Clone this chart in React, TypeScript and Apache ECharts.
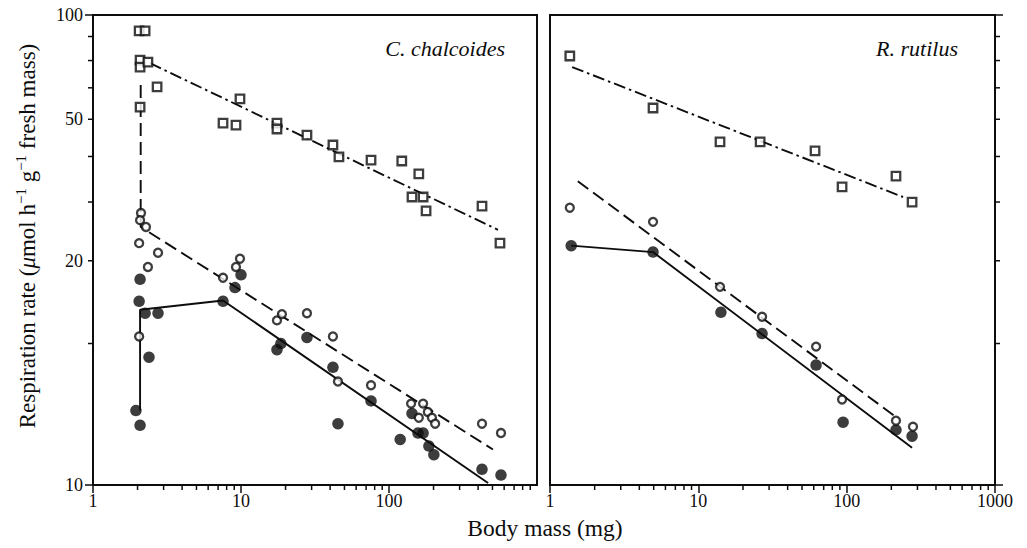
import { useEffect, useRef } from 'react';
import * as echarts from 'echarts';

// Body mass (mg) vs respiration rate, two species, log–log panels.
// Open squares, open circles and filled circles are three measurement sets;
// each set has its own fitted line (dash-dot, dashed, solid).

// ---- C. chalcoides ----
const chalcoidesSquares: [number, number][] = [
  [2.05, 92.5], [2.25, 92.5], [2.08, 80.2], [2.08, 77.5], [2.35, 79.4],
  [2.71, 70.3], [2.08, 63.7], [9.84, 66.3], [7.56, 58.9], [9.25, 58.3],
  [17.5, 58.9], [17.5, 57.2], [27.9, 55.5], [41.8, 52.9], [45.9, 49.9],
  [75.6, 49.1], [122, 48.9], [159, 45.9], [143, 41.0], [170, 41.0],
  [178, 38.3], [425, 39.2], [562, 32.7],
];
const chalcoidesOpen: [number, number][] = [
  [2.11, 37.9], [2.08, 36.6], [2.28, 35.4], [2.05, 32.7], [2.75, 31.2],
  [2.35, 29.1], [7.56, 27.6], [9.25, 29.1], [9.84, 30.3], [2.05, 20.7],
  [17.5, 22.4], [18.9, 23.1], [27.9, 23.2], [41.8, 20.7], [45.2, 16.6],
  [75.6, 16.3], [141, 14.9], [170, 14.9], [159, 13.9], [183, 14.3],
  [195, 13.9], [205, 13.5], [425, 13.5], [571, 12.9],
];
const chalcoidesFilled: [number, number][] = [
  [2.08, 27.4], [2.05, 24.6], [2.25, 23.2], [2.75, 23.2], [2.39, 18.7],
  [1.95, 14.4], [2.08, 13.4], [7.56, 24.6], [9.11, 26.3], [10.0, 28.0],
  [17.5, 19.4], [18.6, 20.0], [27.9, 20.6], [41.8, 17.8], [45.2, 13.5],
  [75.6, 15.1], [119, 12.5], [143, 14.2], [157, 12.9], [170, 12.9],
  [186, 12.1], [201, 11.6], [425, 10.8], [571, 10.5],
];
const chalcoidesSquareFit: [number, number][] = [[2.43, 79.0], [545, 34.9]];
const chalcoidesOpenFit: [number, number][] = [[2.1, 71.0], [2.1, 35.4], [504, 11.9]];
const chalcoidesFilledFit: [number, number][] = [[2.08, 14.4], [2.08, 23.6], [7.56, 24.7], [467, 10.1]];

// ---- R. rutilus ----
const rutilusSquares: [number, number][] = [
  [1.36, 81.8], [4.95, 63.4], [14.0, 53.7], [26.1, 53.7],
  [61.2, 51.4], [93.1, 43.1], [215, 45.4], [276, 40.0],
];
const rutilusOpen: [number, number][] = [
  [1.36, 38.9], [4.95, 36.3], [14.0, 26.4], [26.9, 22.8],
  [62.2, 19.7], [93.1, 15.2], [215, 13.7], [280, 13.3],
];
const rutilusFilled: [number, number][] = [
  [1.39, 32.3], [4.95, 31.3], [14.2, 23.3], [26.9, 21.0],
  [62.2, 18.0], [94.6, 13.6], [215, 13.1], [276, 12.7],
];
const rutilusSquareFit: [number, number][] = [[1.41, 77.5], [240, 41.0]];
const rutilusOpenFit: [number, number][] = [[1.54, 44.3], [212, 14.0]];
const rutilusFilledFit: [number, number][] = [[1.39, 32.3], [4.95, 31.3], [276, 12.0]];

// ---- axis furniture ----
const massMin = 1;
const massMax = 1000;
const rateMin = 10;
const rateMax = 100;
const xMinorTicks = [2, 3, 4, 5, 6, 7, 8, 9, 20, 30, 40, 50, 60, 70, 80, 90, 200, 300, 400, 500, 600, 700, 800, 900];
const yMinorTicks = [20, 30, 40, 50, 60, 70, 80, 90];
const yLabelAt = [100, 60, 30, 10];
const yLabelText = ['100', '50', '20', '10'];

const FONT = "'Liberation Serif', 'Times New Roman', Times, serif";
const INK = '#0d0d0d';
const TICK_FONT = 18;

function xTickSeries(panel: number) {
  return {
    type: 'custom',
    xAxisIndex: panel,
    yAxisIndex: panel,
    silent: true,
    clip: false,
    z: 6,
    data: xMinorTicks.map((v) => [v, rateMin]),
    renderItem: (_p: any, api: any) => {
      const pt = api.coord([api.value(0), api.value(1)]);
      return {
        type: 'line',
        shape: { x1: pt[0], y1: pt[1], x2: pt[0], y2: pt[1] + 5 },
        style: { stroke: INK, lineWidth: 1.5 },
      };
    },
  };
}

function yTickSeries(panel: number, side: 'left' | 'right') {
  const xAt = side === 'left' ? massMin : massMax;
  const dir = side === 'left' ? -1 : 1;
  return {
    type: 'custom',
    xAxisIndex: panel,
    yAxisIndex: panel,
    silent: true,
    clip: false,
    z: 6,
    data: yMinorTicks.map((v) => [xAt, v]),
    renderItem: (_p: any, api: any) => {
      const pt = api.coord([api.value(0), api.value(1)]);
      return {
        type: 'line',
        shape: { x1: pt[0], y1: pt[1], x2: pt[0] + dir * 5, y2: pt[1] },
        style: { stroke: INK, lineWidth: 1.5 },
      };
    },
  };
}

function yLabelSeries() {
  return {
    type: 'custom',
    xAxisIndex: 0,
    yAxisIndex: 0,
    silent: true,
    clip: false,
    z: 6,
    data: yLabelAt.map((v) => [massMin, v]),
    renderItem: (p: any, api: any) => {
      const pt = api.coord([api.value(0), api.value(1)]);
      return {
        type: 'text',
        x: pt[0] - 10,
        y: pt[1],
        style: {
          text: yLabelText[p.dataIndex],
          fill: INK,
          fontSize: TICK_FONT,
          fontFamily: FONT,
          align: 'right',
          verticalAlign: 'middle',
        },
      };
    },
  };
}

function scatter(panel: number, data: [number, number][], kind: 'square' | 'open' | 'filled') {
  const base: any = {
    type: 'scatter',
    xAxisIndex: panel,
    yAxisIndex: panel,
    data,
    z: 4,
    silent: true,
  };
  if (kind === 'square') {
    return { ...base, symbol: 'rect', symbolSize: 8.5, itemStyle: { color: '#fff', borderColor: INK, borderWidth: 2.3 } };
  }
  if (kind === 'open') {
    return { ...base, symbol: 'circle', symbolSize: 8, itemStyle: { color: '#fff', borderColor: INK, borderWidth: 2.3 } };
  }
  return { ...base, z: 3, symbol: 'circle', symbolSize: 11.5, itemStyle: { color: INK, borderWidth: 0 } };
}

function fit(panel: number, data: [number, number][], dash: any) {
  return {
    type: 'line',
    xAxisIndex: panel,
    yAxisIndex: panel,
    data,
    symbol: 'none',
    showSymbol: false,
    silent: true,
    z: 2,
    lineStyle: { color: INK, width: 1.9, type: dash },
  };
}

function xAxis(panel: number, hideMax: boolean) {
  return {
    type: 'log',
    logBase: 10,
    gridIndex: panel,
    min: massMin,
    max: massMax,
    axisLine: { onZero: false, lineStyle: { color: INK, width: 2 } },
    axisTick: { length: 8, lineStyle: { color: INK, width: 1.5 } },
    axisLabel: {
      color: INK,
      fontFamily: FONT,
      fontSize: TICK_FONT,
      margin: 7,
      showMaxLabel: !hideMax,
      formatter: (v: number) => String(Math.round(v)),
    },
    splitLine: { show: false },
  };
}

function yAxis(panel: number, position: 'left' | 'right') {
  return {
    type: 'log',
    logBase: 10,
    gridIndex: panel,
    position,
    min: rateMin,
    max: rateMax,
    axisLine: { onZero: false, lineStyle: { color: INK, width: 2 } },
    axisTick: { length: 8, lineStyle: { color: INK, width: 1.5 } },
    axisLabel: { show: false },
    splitLine: { show: false },
  };
}

export default function App() {
  const ref = useRef<HTMLDivElement>(null);

  useEffect(() => {
    if (!ref.current) return;
    const chart = echarts.init(ref.current, undefined, { renderer: 'svg' });
    const dashDot = [12, 4, 2.5, 4];
    const dashed = [13, 6];

    chart.setOption({
      animation: false,
      backgroundColor: '#fff',
      grid: [
        { left: 93, top: 15, width: 444, height: 470, show: true, borderColor: INK, borderWidth: 2, backgroundColor: 'transparent' },
        { left: 550, top: 15, width: 445, height: 470, show: true, borderColor: INK, borderWidth: 2, backgroundColor: 'transparent' },
      ],
      xAxis: [xAxis(0, true), xAxis(1, false)],
      yAxis: [yAxis(0, 'left'), yAxis(1, 'right')],
      series: [
        fit(0, chalcoidesSquareFit, dashDot),
        fit(0, chalcoidesOpenFit, dashed),
        fit(0, chalcoidesFilledFit, 'solid'),
        fit(1, rutilusSquareFit, dashDot),
        fit(1, rutilusOpenFit, dashed),
        fit(1, rutilusFilledFit, 'solid'),
        scatter(0, chalcoidesFilled, 'filled'),
        scatter(0, chalcoidesOpen, 'open'),
        scatter(0, chalcoidesSquares, 'square'),
        scatter(1, rutilusFilled, 'filled'),
        scatter(1, rutilusOpen, 'open'),
        scatter(1, rutilusSquares, 'square'),
        xTickSeries(0),
        xTickSeries(1),
        yTickSeries(0, 'left'),
        yTickSeries(1, 'right'),
        yLabelSeries(),
      ],
      graphic: [
        {
          type: 'text',
          x: 505,
          y: 48,
          style: { text: 'C. chalcoides', fill: INK, fontSize: 22, fontStyle: 'italic', fontFamily: FONT, align: 'right', verticalAlign: 'middle' },
        },
        {
          type: 'text',
          x: 958,
          y: 48,
          style: { text: 'R. rutilus', fill: INK, fontSize: 22, fontStyle: 'italic', fontFamily: FONT, align: 'right', verticalAlign: 'middle' },
        },
        {
          type: 'text',
          x: 545,
          y: 528,
          style: { text: 'Body mass (mg)', fill: INK, fontSize: 23.5, fontFamily: FONT, align: 'center', verticalAlign: 'middle' },
        },
        {
          type: 'text',
          x: 27,
          y: 236,
          rotation: Math.PI / 2,
          style: {
            text: '{r|Respiration rate (}{i|μ}{r|mol h}{s|−1}{r| g}{s|−1}{r| fresh mass)}',
            align: 'center',
            verticalAlign: 'middle',
            rich: {
              r: { fontSize: 23, fontFamily: FONT, fill: INK, lineHeight: 27 },
              i: { fontSize: 23, fontFamily: FONT, fontStyle: 'italic', fill: INK, lineHeight: 27 },
              s: { fontSize: 15, fontFamily: FONT, fill: INK, lineHeight: 15, verticalAlign: 'top' },
            },
          },
        },
      ],
    });

    return () => chart.dispose();
  }, []);

  return (
    <div
      ref={ref}
      style={{ position: 'fixed', left: 0, top: 0, width: 1027, height: 548, background: '#fff' }}
    />
  );
}
